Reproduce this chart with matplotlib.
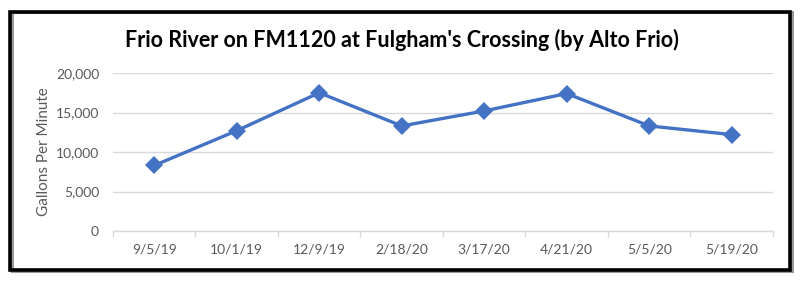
import matplotlib.pyplot as plt
from matplotlib.patches import Rectangle

dates = ["9/5/19", "10/1/19", "12/9/19", "2/18/20", "3/17/20", "4/21/20", "5/5/20", "5/19/20"]
gpm = [8300, 12700, 17500, 13300, 15200, 17400, 13300, 12200]
yticks = [0, 5000, 10000, 15000, 20000]

W, H = 804, 281
fig = plt.figure(figsize=(W / 100, H / 100), dpi=100)
fig.patch.set_facecolor("white")

# chart border with a little drop shadow
fig.patches.append(Rectangle((12 / W, 1 - 271 / H), 780 / W, 259 / H, transform=fig.transFigure,
                             fill=False, edgecolor="#9a9a9a", linewidth=2.2, zorder=0))
fig.patches.append(Rectangle((10.5 / W, 1 - 269.5 / H), 780 / W, 258 / H, transform=fig.transFigure,
                             fill=False, edgecolor="black", linewidth=2.6, zorder=1))

ax = fig.add_axes([113 / W, 1 - 231 / H, 660 / W, 158 / H])
x = list(range(len(dates)))
ax.plot(x, gpm, color="#4472C4", linewidth=2.4, marker="D", markersize=9,
        markeredgewidth=0, zorder=3)

ax.set_xlim(-0.5, len(dates) - 0.5)
ax.set_ylim(0, 20000)
ax.set_yticks(yticks)
ax.set_yticklabels([f"{v:,}" for v in yticks])
ax.set_xticks(x)
ax.set_xticklabels(dates)
ax.set_xticks([i - 0.5 for i in range(len(dates) + 1)], minor=True)

for s in ["top", "right", "left"]:
    ax.spines[s].set_visible(False)
ax.spines["bottom"].set_color("#d9d9d9")
ax.spines["bottom"].set_linewidth(1)
ax.yaxis.grid(True, color="#d9d9d9", linewidth=1)
ax.set_axisbelow(True)

ax.tick_params(axis="y", length=0, pad=10, labelsize=10, labelcolor="#595959")
ax.tick_params(axis="x", which="major", length=0, pad=9, labelsize=10, labelcolor="#595959")
ax.tick_params(axis="x", which="minor", length=4, color="#d9d9d9", width=1)
for lab in ax.get_xticklabels() + ax.get_yticklabels():
    lab.set_family("Lato")

fig.text(0.5, 1 - 40 / H, "Frio River on FM1120 at Fulgham's Crossing (by Alto Frio)",
         ha="center", va="center", fontsize=15.5, fontweight="bold", family="Lato", color="black")
fig.text(44 / W, 1 - 152 / H, "Gallons Per Minute", rotation=90, ha="center", va="center",
         fontsize=11, family="Lato", color="#595959")

fig.savefig("out.png", dpi=100)
